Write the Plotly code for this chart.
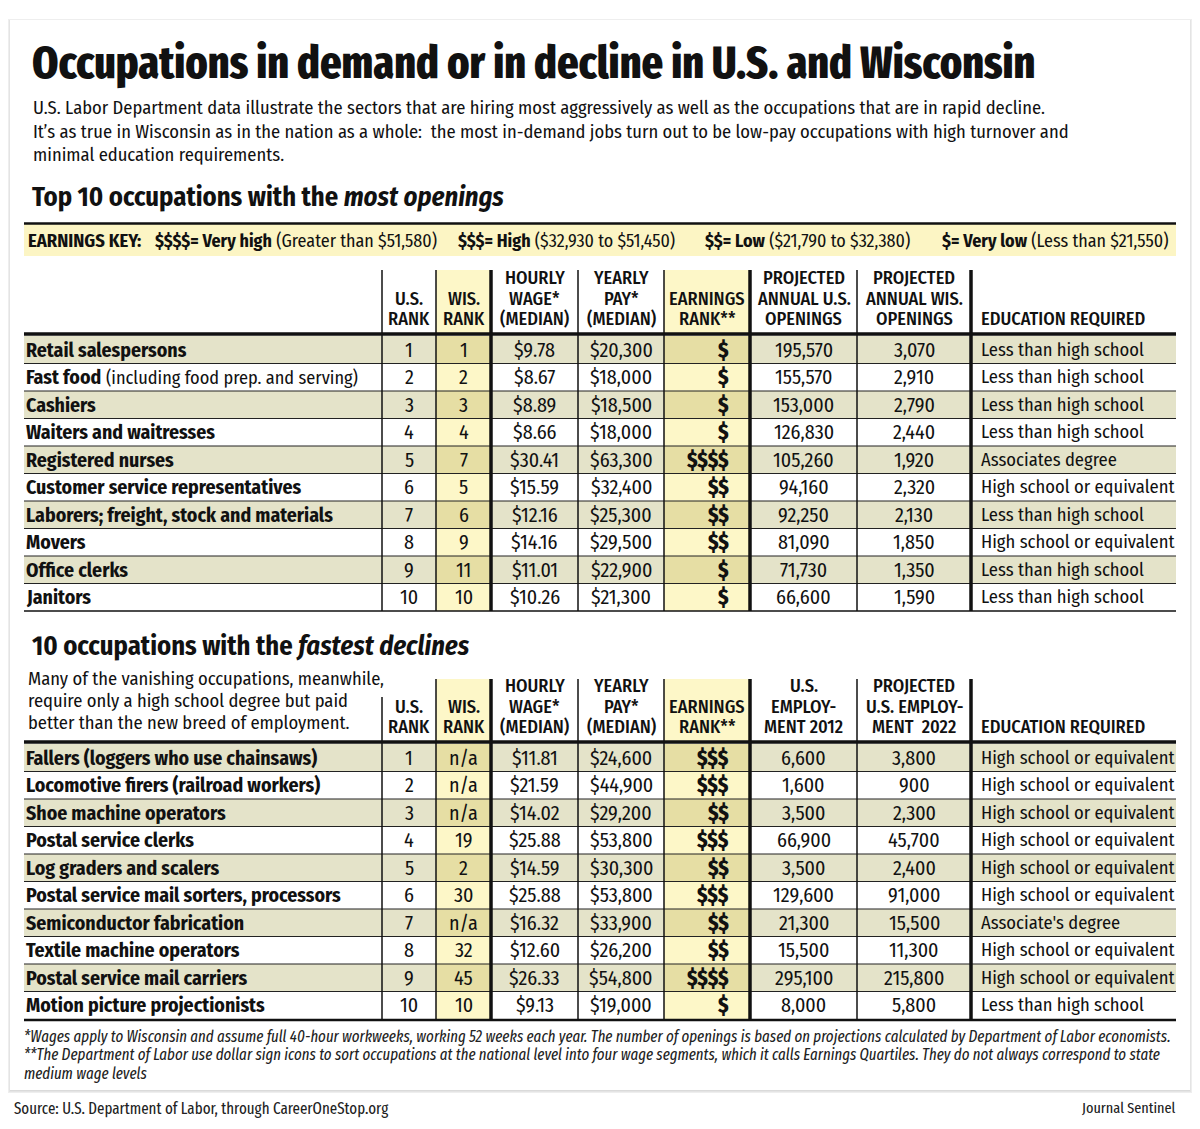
import plotly.graph_objects as go

# ---------------- DATA ----------------
TITLE = "Occupations in demand or in decline in U.S. and Wisconsin"
INTRO = [
    "U.S. Labor Department data illustrate the sectors that are hiring most aggressively as well as the occupations that are in rapid decline.",
    "It\u2019s as true in Wisconsin as in the nation as a whole:  the most in-demand jobs turn out to be low-pay occupations with high turnover and",
    "minimal education requirements.",
]
SECTION1 = "Top 10 occupations with the <i>most openings</i>"
SECTION2 = "10 occupations with the <i>fastest declines</i>"
SUB2 = [
    "Many of the vanishing occupations, meanwhile,",
    "require only a high school degree but paid",
    "better than the new breed of employment.",
]
KEY_LABEL = "EARNINGS KEY:"
KEY_BOLD = ["$$$$= Very high", "$$$= High", "$$= Low", "$= Very low"]
KEY_RANGE = ["(Greater than $51,580)", "($32,930 to $51,450)", "($21,790 to $32,380)", "(Less than $21,550)"]

top_headers = [["U.S.", "RANK"], ["WIS.", "RANK"], ["HOURLY", "WAGE*", "(MEDIAN)"],
               ["YEARLY", "PAY*", "(MEDIAN)"], ["EARNINGS", "RANK**"],
               ["PROJECTED", "ANNUAL U.S.", "OPENINGS"], ["PROJECTED", "ANNUAL WIS.", "OPENINGS"],
               ["EDUCATION REQUIRED"]]
dec_headers = [["U.S.", "RANK"], ["WIS.", "RANK"], ["HOURLY", "WAGE*", "(MEDIAN)"],
               ["YEARLY", "PAY*", "(MEDIAN)"], ["EARNINGS", "RANK**"],
               ["U.S.", "EMPLOY-", "MENT 2012"], ["PROJECTED", "U.S. EMPLOY-", "MENT  2022"],
               ["EDUCATION REQUIRED"]]

top_names = ["Retail salespersons", "Fast food", "Cashiers", "Waiters and waitresses",
             "Registered nurses", "Customer service representatives",
             "Laborers; freight, stock and materials", "Movers", "Office clerks", "Janitors"]
top_notes = ["", "(including food prep. and serving)", "", "", "", "", "", "", "", ""]
top_us_rank = [1, 2, 3, 4, 5, 6, 7, 8, 9, 10]
top_wis_rank = [1, 2, 3, 4, 7, 5, 6, 9, 11, 10]
top_hourly = ["$9.78", "$8.67", "$8.89", "$8.66", "$30.41", "$15.59", "$12.16", "$14.16", "$11.01", "$10.26"]
top_yearly = ["$20,300", "$18,000", "$18,500", "$18,000", "$63,300", "$32,400", "$25,300", "$29,500", "$22,900", "$21,300"]
top_earn = ["$", "$", "$", "$", "$$$$", "$$", "$$", "$$", "$", "$"]
top_us_open = [195570, 155570, 153000, 126830, 105260, 94160, 92250, 81090, 71730, 66600]
top_wis_open = [3070, 2910, 2790, 2440, 1920, 2320, 2130, 1850, 1350, 1590]
top_edu = ["Less than high school", "Less than high school", "Less than high school",
           "Less than high school", "Associates degree", "High school or equivalent",
           "Less than high school", "High school or equivalent", "Less than high school",
           "Less than high school"]

dec_names = ["Fallers (loggers who use chainsaws)", "Locomotive firers (railroad workers)",
             "Shoe machine operators", "Postal service clerks", "Log graders and scalers",
             "Postal service mail sorters, processors", "Semiconductor fabrication",
             "Textile machine operators", "Postal service mail carriers",
             "Motion picture projectionists"]
dec_us_rank = [1, 2, 3, 4, 5, 6, 7, 8, 9, 10]
dec_wis_rank = ["n/a", "n/a", "n/a", "19", "2", "30", "n/a", "32", "45", "10"]
dec_hourly = ["$11.81", "$21.59", "$14.02", "$25.88", "$14.59", "$25.88", "$16.32", "$12.60", "$26.33", "$9.13"]
dec_yearly = ["$24,600", "$44,900", "$29,200", "$53,800", "$30,300", "$53,800", "$33,900", "$26,200", "$54,800", "$19,000"]
dec_earn = ["$$$", "$$$", "$$", "$$$", "$$", "$$$", "$$", "$$", "$$$$", "$"]
dec_emp2012 = [6600, 1600, 3500, 66900, 3500, 129600, 21300, 15500, 295100, 8000]
dec_emp2022 = [3800, 900, 2300, 45700, 2400, 91000, 15500, 11300, 215800, 5800]
dec_edu = ["High school or equivalent"] * 6 + ["Associate's degree"] + \
          ["High school or equivalent"] * 2 + ["Less than high school"]

FOOTNOTES = [
    "*Wages apply to Wisconsin and assume full 40-hour workweeks, working 52 weeks each year. The number of openings is based on projections calculated by Department of Labor economists.",
    "**The Department of Labor use dollar sign icons to sort occupations at the national level into four wage segments, which it calls Earnings Quartiles. They do not always correspond to state",
    "medium wage levels",
]
SOURCE = "Source: U.S. Department of Labor, through CareerOneStop.org"
CREDIT = "Journal Sentinel"

# ---------------- STYLE ----------------
W, H = 1200, 1129
F_BODY = "'Fira Sans Condensed', 'DejaVu Sans Condensed', sans-serif"
F_XC = "'Fira Sans Extra Condensed', 'Fira Sans Condensed', 'DejaVu Sans Condensed', sans-serif"
INK = "#111111"
BEIGE = "#E4E3C9"
YEL_LIGHT = "#FDF7C8"
YEL_DARK = "#E6DEA4"
KEY_YEL = "#FCF5C4"

COL_EDGES = [24, 382, 436, 491, 578, 664, 750, 857, 971, 1176]
VLINE_W = [None, 1.5, 1.5, 3.5, 1.5, 1.5, 3.5, 1.5, 3.5]
YELLOW_COLS = [2, 5]
ROW_H = 27.5
KEY_BOLD_X = [155, 458, 705, 942]

S_NAME = 19.8
S_NOTE = 18.3
S_TEXT = 18.5
S_NUM = 20.0
S_HEAD = 18.3

shapes = []
annots = []


def rect(x0, y0, x1, y1, fill):
    shapes.append(dict(type="rect", xref="x", yref="y", x0=x0, y0=y0, x1=x1, y1=y1,
                       fillcolor=fill, line=dict(width=0), layer="below"))


def hline(x0, x1, y, w, color=INK):
    shapes.append(dict(type="line", xref="x", yref="y", x0=x0, x1=x1, y0=y, y1=y,
                       line=dict(color=color, width=w), layer="above"))


def vline(x, y0, y1, w, color=INK):
    shapes.append(dict(type="line", xref="x", yref="y", x0=x, x1=x, y0=y0, y1=y1,
                       line=dict(color=color, width=w), layer="above"))


def text(x, y, s, size, anchor="left", color=INK, family=F_BODY, weight="normal"):
    annots.append(dict(x=x, y=y, xref="x", yref="y", text=s, showarrow=False,
                       xanchor=anchor, yanchor="middle", borderpad=0, borderwidth=0,
                       font=dict(family=family, size=size, color=color, weight=weight)))


# card with soft shadow
for off, col in [(3, "#eeeeee"), (2, "#e4e4e4"), (1, "#dadada")]:
    rect(10 - off + 1, 20 - off + 2, 1190 + off - 1, 1090 + off, col)
rect(10, 20, 1190, 1090, "#ffffff")

# title & intro
text(32, 62, TITLE, 45.5, family=F_XC, weight=800)
for i, line in enumerate(INTRO):
    text(33, 108 + i * 23.5, line, 18.5)
text(32, 197, "<b>" + SECTION1 + "</b>", 26.5)

# earnings key
rect(24, 224, 1176, 256, KEY_YEL)
hline(24, 1176, 223.5, 2.5)
text(28, 240.5, "<b>" + KEY_LABEL + "</b>", 18.5)
for b, r, x in zip(KEY_BOLD, KEY_RANGE, KEY_BOLD_X):
    text(x, 240.5, "<b>" + b + "</b> " + r, 18)


def draw_table(head_top, head_line, head_last, headers, names, notes, cols, earn, edu,
               first_line_tops=None):
    row_top = head_line + 2
    n = len(names)
    bottom = row_top + n * ROW_H
    for c in YELLOW_COLS:
        rect(COL_EDGES[c], head_top, COL_EDGES[c + 1], head_line, YEL_LIGHT)
    for i in range(n):
        y0 = row_top + i * ROW_H
        if i % 2 == 0:
            rect(COL_EDGES[0], y0, COL_EDGES[-1], y0 + ROW_H, BEIGE)
        for c in YELLOW_COLS:
            rect(COL_EDGES[c], y0, COL_EDGES[c + 1], y0 + ROW_H,
                 YEL_DARK if i % 2 == 0 else YEL_LIGHT)
        if i > 0:
            hline(COL_EDGES[0], COL_EDGES[-1], y0, 1.1, "#222222")
    for k in range(1, len(COL_EDGES) - 1):
        top = head_top
        if first_line_tops and k in first_line_tops:
            top = first_line_tops[k]
        vline(COL_EDGES[k], top, bottom, VLINE_W[k])
    hline(COL_EDGES[0], COL_EDGES[-1], head_line, 3.5)
    for k, lines in enumerate(headers):
        c = k + 1
        for j, s in enumerate(reversed(lines)):
            y = head_last - j * 20.5
            if c == 8:
                text(COL_EDGES[c] + 10, y, s, S_HEAD, weight=500)
            else:
                text((COL_EDGES[c] + COL_EDGES[c + 1]) / 2, y, s, S_HEAD, anchor="center", weight=500)
    for i in range(n):
        yc = row_top + i * ROW_H + ROW_H / 2
        label = "<b>" + names[i] + "</b>"
        if notes and notes[i]:
            label += ' <span style="font-size:%spx">%s</span>' % (S_NOTE, notes[i])
        text(26, yc, label, S_NAME)
        for c, vals in zip([1, 2, 3, 4, 6, 7], cols):
            v = vals[i]
            s = f"{v:,}" if isinstance(v, int) and c >= 6 else str(v)
            text((COL_EDGES[c] + COL_EDGES[c + 1]) / 2, yc, s, S_NUM, anchor="center")
        text(729, yc, earn[i], 21, anchor="right", weight=800)
        text(COL_EDGES[8] + 10, yc, edu[i], S_TEXT)
    return bottom


b1 = draw_table(270, 334, 319, top_headers, top_names, top_notes,
                [top_us_rank, top_wis_rank, top_hourly, top_yearly, top_us_open, top_wis_open],
                top_earn, top_edu)
hline(COL_EDGES[0], COL_EDGES[-1], b1, 1.5)

text(32, 646, "<b>" + SECTION2 + "</b>", 26.5)
for i, line in enumerate(SUB2):
    text(28, 679 + i * 22, line, 18.5)
b2 = draw_table(679, 742, 727, dec_headers, dec_names, None,
                [dec_us_rank, dec_wis_rank, dec_hourly, dec_yearly, dec_emp2012, dec_emp2022],
                dec_earn, dec_edu, first_line_tops={1: 697})
hline(COL_EDGES[0], COL_EDGES[-1], b2 + 1, 2.5)

for i, line in enumerate(FOOTNOTES):
    text(24, 1036 + i * 18.5, "<i>" + line + "</i>", 16.2, color="#222222", family=F_XC)

text(14, 1108, SOURCE, 16.3, color="#222222", family=F_XC)
text(1176, 1108, CREDIT, 15.5, anchor="right", color="#222222", family=F_XC)

fig = go.Figure()
fig.update_layout(
    width=W, height=H, margin=dict(l=0, r=0, t=0, b=0),
    paper_bgcolor="#ffffff", plot_bgcolor="#ffffff",
    xaxis=dict(range=[0, W], visible=False, fixedrange=True),
    yaxis=dict(range=[H, 0], visible=False, fixedrange=True),
    shapes=shapes, annotations=annots, showlegend=False,
)
fig.write_html("out.html", config={"displayModeBar": False},
               post_script="document.body.style.margin='0px';document.body.style.padding='0px';")
